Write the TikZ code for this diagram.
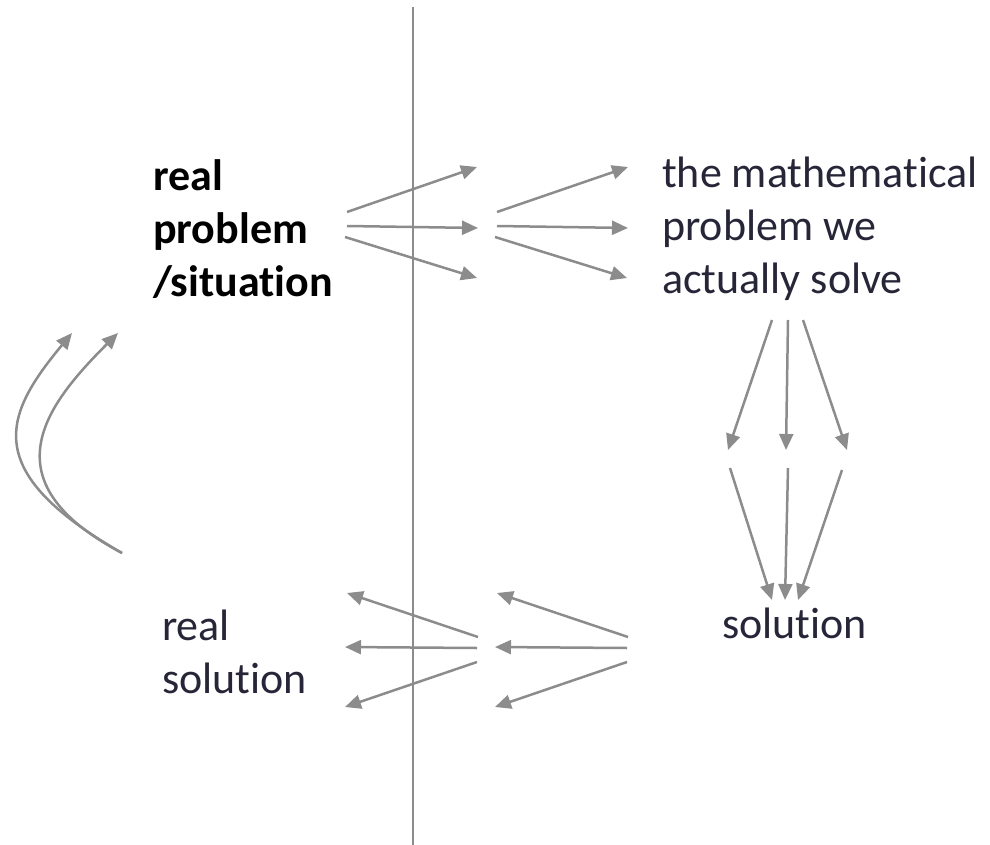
\documentclass[tikz,border=0pt]{standalone}
\usepackage{fontspec}
\setmainfont{Carlito}[Ligatures={NoCommon}]
\usetikzlibrary{arrows.meta}
\definecolor{arrowgray}{RGB}{140,140,140}
\definecolor{textnavy}{RGB}{38,38,56}
\tikzset{
  lbl/.style={anchor=base west,inner sep=0pt,align=left,text=textnavy,
    font=\fontsize{44}{53}\selectfont},
  flow/.style={draw=arrowgray,line width=2.5pt,-{Triangle[length=16pt,width=14pt]}},
}
\begin{document}
\begin{tikzpicture}[x=1pt,y=-1pt]
\useasboundingbox (0,0) rectangle (990,845);
% divider
\coordinate (divtop) at (413,7);
\coordinate (divbot) at (413,845);
\draw[arrowgray,line width=2pt] (divtop) -- (divbot);
% labels (anchored at the baseline of the last line)
\node[lbl,text=black,font=\fontsize{44}{53}\selectfont\bfseries] (realprob) at (153,296)
  {real\\problem\\/situation};
\node[lbl] (mathprob) at (662,293) {the mathematical\\problem we\\actually solve};
\node[lbl] (realsol) at (162,693) {real\\solution};
\node[lbl] (sol) at (722,638) {solution};
% fans of arrows
\foreach \nm/\sx/\sy/\ex/\ey in {
  a1/347/212/477/167, a2/347/226/478/228, a3/345/237/477/278,
  b1/497/212/628/167, b2/497/226/628/228, b3/495/237/627/278,
  c1/772/320/728/450, c2/788/320/786/450, c3/803/320/847/450,
  d1/730/468/772/600, d2/788/468/785/600, d3/842/470/798/600,
  e1/628/637/497/593, e2/627/648/495/647, e3/627/662/495/707,
  f1/478/637/347/593, f2/477/648/345/647, f3/477/662/345/707}{
  \coordinate (\nm s) at (\sx,\sy);
  \coordinate (\nm e) at (\ex,\ey);
  \draw[flow] (\nm s) -- (\nm e);
}
% back to the real problem
\coordinate (loopstart) at (122,553);
\coordinate (outerend) at (72,333);
\coordinate (innerend) at (118,333);
\draw[flow] (loopstart) .. controls (-21,471) and (4,415) .. (outerend);
\draw[flow] (loopstart) .. controls (-14,481) and (46,405) .. (innerend);
\end{tikzpicture}
\end{document}
